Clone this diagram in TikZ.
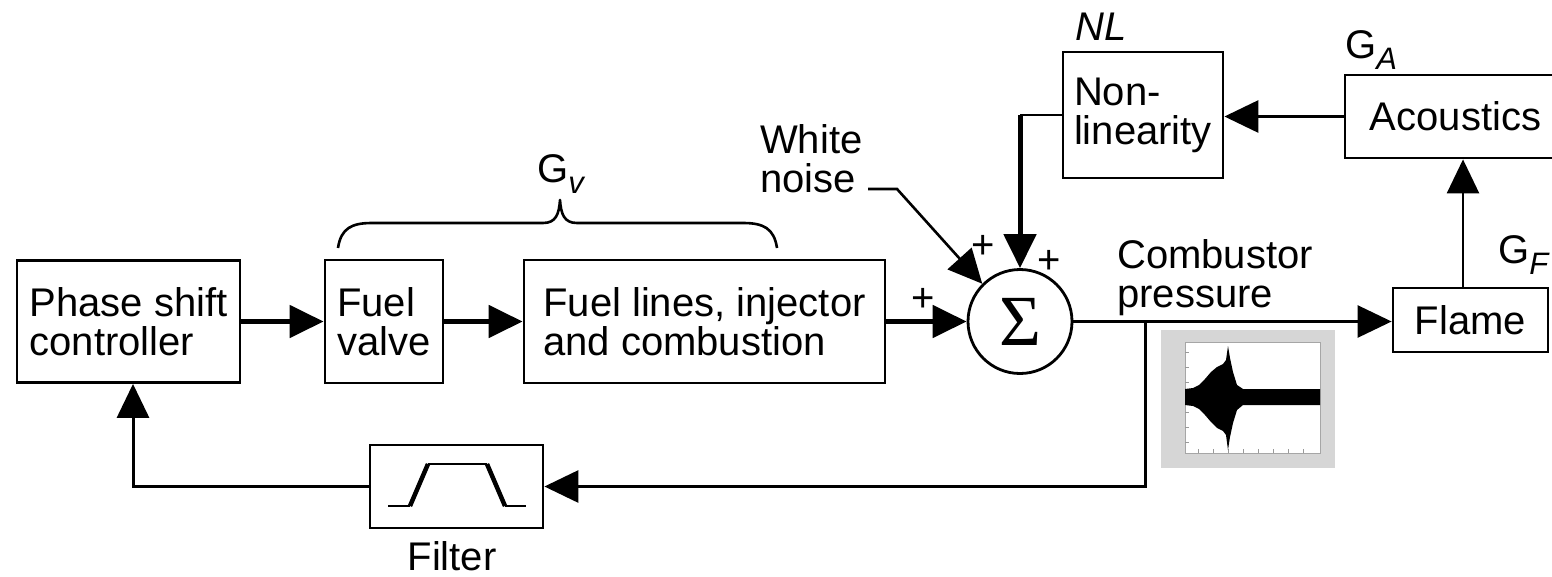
\documentclass[tikz,border=0pt]{standalone}
\usepackage{fontspec}
\setmainfont{Liberation Sans}
\newfontfamily\greekserif{Liberation Serif}
\usetikzlibrary{arrows.meta,calc}
\newcommand{\subsc}[1]{\raisebox{-0.28em}{\fontsize{31}{31}\selectfont\itshape #1}}
\begin{document}
\begin{tikzpicture}[x=1pt,y=-1pt,
  font=\fontsize{40}{39}\selectfont,
  blk/.style={draw, line width=2.8pt, inner sep=0pt, align=left},
  lbl/.style={inner sep=0pt, align=left},
  tip/.style={-{Triangle[length=34pt,width=32pt]}},
  thickarr/.style={tip, line width=5pt},
  medarr/.style={tip, line width=3pt},
  thinarr/.style={tip, line width=2.6pt},
  thinline/.style={line width=2.6pt},
]
\useasboundingbox (0,0) rectangle (1552,576);

% blocks
\node[blk, minimum width=223pt, minimum height=122pt] (ctrl) at (128.5,321.5) {Phase shift\\controller};
\node[blk, minimum width=118pt, minimum height=123pt] (valve) at (384,321.5) {Fuel\\valve};
\node[blk, minimum width=361pt, minimum height=123pt] (lines) at (704.5,321.5) {Fuel lines, injector\\and combustion};
\node[draw, circle, line width=2.8pt, minimum size=104pt, inner sep=0pt] (sum) at (1020,321.5) {\fontsize{72}{72}\greekserif Σ};
\node[blk, minimum width=160pt, minimum height=126pt] (nl) at (1143,115) {Non-\\linearity};
\node[blk, minimum width=221pt, minimum height=83pt] (acou) at (1455.5,116.5) {Acoustics};
\node[blk, minimum width=155pt, minimum height=64pt] (flame) at (1470.5,320) {Flame};
\node[blk, minimum width=173pt, minimum height=83pt] (filt) at (456.5,486.5) {};

% labels
\node[lbl, anchor=base west] (gv) at (537,182) {G\subsc{v}};
\node[lbl, anchor=base west] (nllbl) at (1075,40) {\itshape NL};
\node[lbl, anchor=base west] (galbl) at (1345,58) {G\subsc{A}};
\node[lbl, anchor=base west] (gflbl) at (1498,263) {G\subsc{F}};
\node[lbl, anchor=base] (filtlbl) at (452,570) {Filter};
\node[lbl, anchor=north west] (wnlbl) at (760,124) {White\\noise};
\node[lbl, anchor=north west] (cplbl) at (1117,239) {Combustor\\pressure};
\node[lbl] (p1) at (923,300) {+};
\node[lbl] (p2) at (983,247) {+};
\node[lbl] (p3) at (1049,262) {+};

% brace over the fuel blocks
\draw[line width=2.6pt, line join=round]
  (338,248) .. controls (341,228) and (352,223) .. (372,223) -- (543,223)
  .. controls (556,223) and (559,214) .. (560,200)
  .. controls (561,214) and (564,223) .. (577,223) -- (743,223)
  .. controls (763,223) and (774,228) .. (777,248);

% filter symbol
\draw[line width=2.2pt] (388,506) -- (410,506);
\draw[line width=2.2pt] (505,506) -- (526,506);
\draw[line width=2.6pt] (428,464) -- (487,464);
\draw[line width=4.5pt] (410,506) -- (428,464);
\draw[line width=4.5pt] (487,464) -- (505,506);

% plot picture
\fill[gray!32] (1161,330) rectangle (1335,468);
\fill[white] (1185,342) rectangle (1320,453);
\draw[gray!70, line width=0.6pt] (1185,342) rectangle (1320,453);
\foreach \yy in {352,367,382,397,412,427,442} {\draw[gray!80, line width=0.6pt] (1185,\yy) -- (1189,\yy);}
\foreach \xx in {1198,1213,1228,1243,1258,1273,1288,1303} {\draw[gray!80, line width=0.6pt] (\xx,453) -- (\xx,449);}
\fill[black]
  (1185,389) -- (1193,388) -- (1199,385) -- (1205,379) -- (1211,372) -- (1217,367) -- (1223,364)
  -- (1226,360) -- (1228,346) -- (1230,358) -- (1233,372) -- (1237,385) -- (1243,389)
  -- (1270,389) -- (1290,389) -- (1320,389)
  -- (1320,405) -- (1290,405) -- (1270,405) -- (1243,405) -- (1237,410) -- (1233,423)
  -- (1230,437) -- (1228,450) -- (1226,435) -- (1223,431) -- (1217,428) -- (1211,422)
  -- (1205,415) -- (1199,409) -- (1193,406) -- (1185,405) -- cycle;

% connectors
\draw[thickarr] (ctrl.east) -- (valve.west);
\draw[thickarr] (valve.east) -- (lines.west);
\draw[thickarr] (lines.east) -- (sum.west);
\coordinate (wn) at (868,189);
\draw[thinarr] (wn) -- ++(29,0) -- (sum.135);
\coordinate (nlc) at (nl.west -| sum.north);
\draw[thinline] (nl.west) -- (nlc);
\draw[thickarr] (nlc) -- (sum.north);
\draw[medarr] (acou.west) -- (acou.west -| nl.east);
\coordinate (fx) at (1463,0);
\draw[thinarr] (flame.north -| fx) -- (acou.south -| fx);
\draw[thinarr] (sum.east) -- (sum.east -| flame.west);
\coordinate (br) at (1145,321.5);
\draw[medarr] (br) |- (filt.east);
\coordinate (cx) at (133,0);
\draw[medarr] (filt.west) -| (ctrl.south -| cx);
\end{tikzpicture}
\end{document}
